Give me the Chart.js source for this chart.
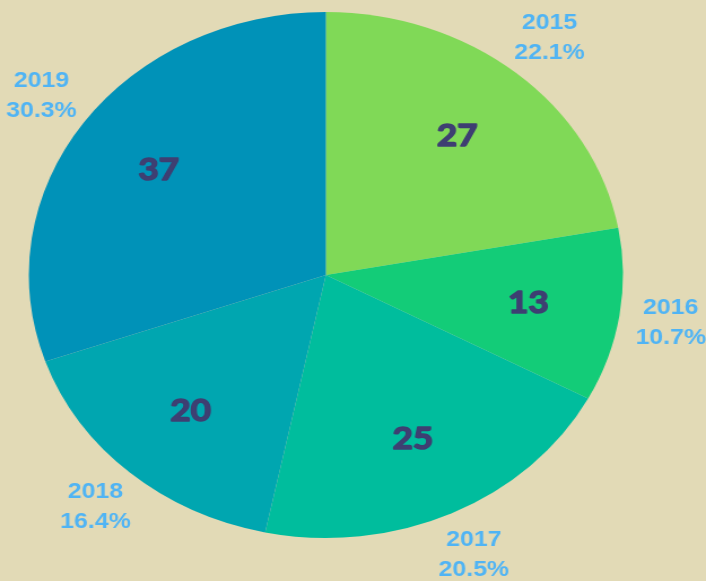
<!DOCTYPE html>
<html>
<head>
<meta charset="utf-8">
<script src="https://cdn.jsdelivr.net/npm/chart.js@4/dist/chart.umd.min.js"></script>
<style>
  html, body { margin: 0; padding: 0; background: #e2dab6; overflow: hidden; }
  #wrap { width: 625px; height: 581px; transform: scaleX(1.1296); transform-origin: 0 0; position: absolute; left: 0; top: 0; }
</style>
</head>
<body>
<div id="wrap"><canvas id="c"></canvas></div>
<script>
const categories = ['2015', '2016', '2017', '2018', '2019'];
const values = [27, 13, 25, 20, 37];
const colors = ['#80d957', '#13cc78', '#00bd9d', '#00a6b0', '#0092b8'];

const labelPlugin = {
  id: 'sliceLabels',
  afterDatasetsDraw(chart) {
    const ctx = chart.ctx;
    const meta = chart.getDatasetMeta(0);
    const data = chart.data.datasets[0].data;
    const total = data.reduce((a, b) => a + b, 0);
    ctx.save();
    ctx.textAlign = 'center';
    ctx.textBaseline = 'middle';
    meta.data.forEach((arc, i) => {
      const p = arc.getProps(['x', 'y', 'startAngle', 'endAngle', 'outerRadius'], true);
      const mid = (p.startAngle + p.endAngle) / 2;
      const ri = p.outerRadius * 0.69;
      const vx = p.x + Math.cos(mid) * ri;
      const vy = p.y + Math.sin(mid) * ri;
      ctx.fillStyle = '#3e3f72';
      ctx.strokeStyle = '#3e3f72';
      ctx.lineWidth = 1.6;
      ctx.lineJoin = 'round';
      ctx.font = 'bold 31px Lato, "Open Sans", sans-serif';
      ctx.strokeText(String(data[i]), vx, vy);
      ctx.fillText(String(data[i]), vx, vy);
      const ro = p.outerRadius + 46;
      const ox = p.x + Math.cos(mid) * ro;
      const oy = p.y + Math.sin(mid) * ro;
      ctx.fillStyle = '#50b4f4';
      ctx.font = 'bold 22px "Liberation Sans", Arial, sans-serif';
      ctx.fillText(chart.data.labels[i], ox, oy - 15);
      ctx.fillText((data[i] / total * 100).toFixed(1) + '%', ox, oy + 15);
    });
    ctx.restore();
  }
};

new Chart(document.getElementById('c'), {
  type: 'pie',
  data: {
    labels: categories,
    datasets: [{
      data: values,
      backgroundColor: colors,
      borderWidth: 0
    }]
  },
  options: {
    responsive: true,
    maintainAspectRatio: false,
    animation: false,
    layout: { padding: { top: 12, bottom: 43, left: 25.5, right: 73.5 } },
    plugins: { legend: { display: false }, tooltip: { enabled: false } }
  },
  plugins: [labelPlugin]
});
</script>
</body>
</html>
